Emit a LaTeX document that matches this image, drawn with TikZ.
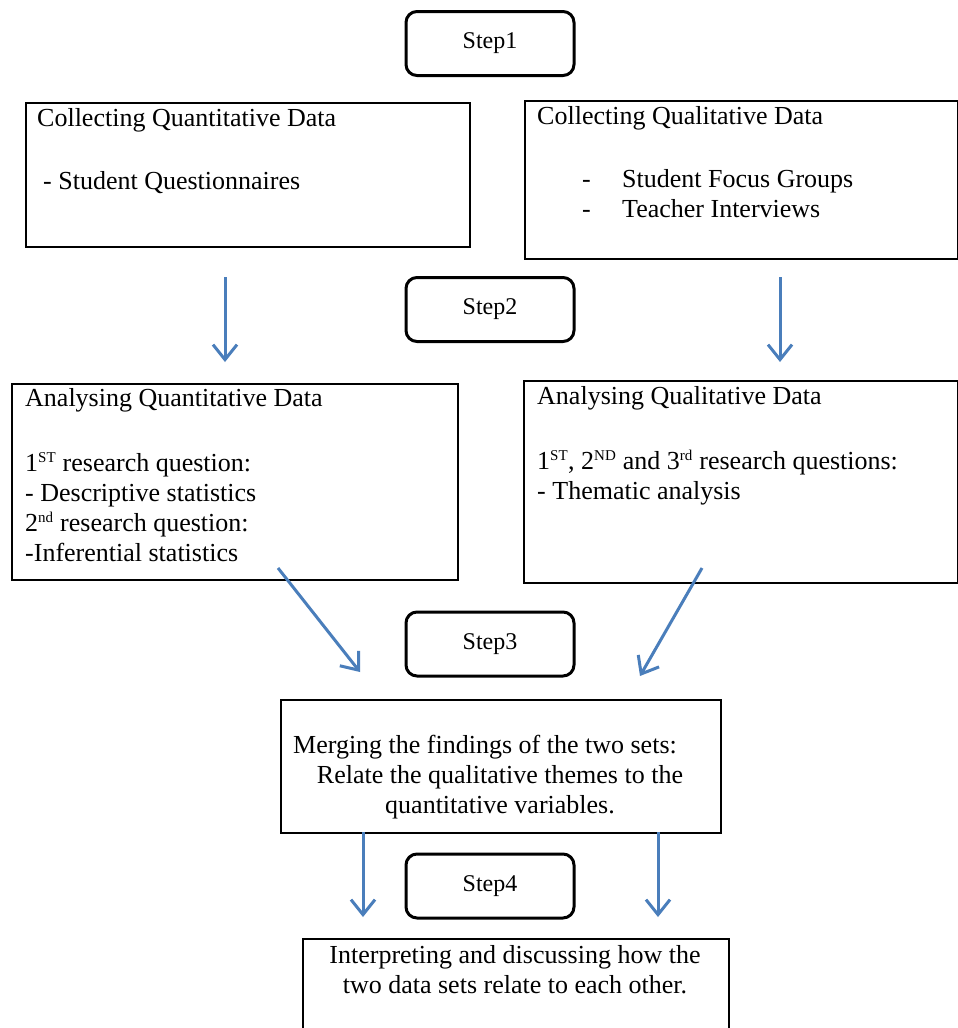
\documentclass[tikz,border=0pt]{standalone}
\usepackage{fontspec}
\setmainfont{Liberation Serif}
\usetikzlibrary{arrows.meta}
\definecolor{arrowblue}{RGB}{74,126,187}
\newcommand{\ordsup}[1]{\textsuperscript{\fontsize{15}{15}\selectfont #1}}

\begin{document}
\begin{tikzpicture}[x=1pt,y=-1pt,
  stepbox/.style={draw,line width=3pt,rounded corners=11pt,minimum width=168pt,minimum height=64pt,font=\fontsize{24}{28}\selectfont},
  frame/.style={draw,line width=1.5pt,anchor=north west,inner sep=0pt},
  txt/.style={anchor=north west,align=left,inner sep=0pt,font=\fontsize{26}{30}\selectfont},
  flow/.style={arrowblue,line width=3pt,-{Straight Barb[length=15pt,width=24pt]}}]
  \useasboundingbox[fill=white] (0,0) rectangle (958,1028);

  % step labels
  \node[stepbox] (step1) at (490,43.5) {Step1};
  \node[stepbox] (step2) at (490,309.5) {Step2};
  \node[stepbox] (step3) at (490,644) {Step3};
  \node[stepbox] (step4) at (490,886) {Step4};

  % boxes
  \node[frame,minimum width=444pt,minimum height=144pt] (qncol) at (25,102) {};
  \node[frame,minimum width=433pt,minimum height=158pt] (qlcol) at (524,100) {};
  \node[frame,minimum width=446pt,minimum height=196pt] (qnan) at (11,383) {};
  \node[frame,minimum width=434pt,minimum height=202pt] (qlan) at (523,380) {};
  \node[frame,minimum width=440pt,minimum height=133pt] (merge) at (280,699) {};
  \node[frame,minimum width=426pt,minimum height=120pt] (interp) at (302,938) {};

  \node[txt] (qncoltxt) at (37,108) {Collecting Quantitative Data\\[33pt]
    \hspace*{6pt}- Student Questionnaires};
  \node[txt] (qlcoltxt) at (537,106) {Collecting Qualitative Data\\[33pt]
    \hspace*{45pt}\makebox[40pt][l]{-}Student Focus Groups\\
    \hspace*{45pt}\makebox[40pt][l]{-}Teacher Interviews};
  \node[txt] (qnantxt) at (25,388) {Analysing Quantitative Data\\[35pt]
    1\ordsup{ST} research question:\\
    - Descriptive statistics\\
    2\ordsup{nd} research question:\\
    -Inferential statistics};
  \node[txt] (qlantxt) at (537,386) {Analysing Qualitative Data\\[35pt]
    1\ordsup{ST}, 2\ordsup{ND} and 3\ordsup{rd} research questions:\\
    - Thematic analysis};
  \node[txt,anchor=center,align=center] (mergetxt) at (500,777) {Merging the findings of the two sets:\hspace*{30pt}\\
    Relate the qualitative themes to the\\
    quantitative variables.};
  \node[txt,anchor=center,align=center] (interptxt) at (515,970) {Interpreting and discussing how the\\
    two data sets relate to each other.};

  % arrows
  \coordinate (a1) at (225,277);  \coordinate (b1) at (225,362);
  \coordinate (a2) at (780,277);  \coordinate (b2) at (780,362);
  \coordinate (a3) at (278,568);  \coordinate (b3) at (360,672);
  \coordinate (a4) at (702,568);  \coordinate (b4) at (640,676);
  \coordinate (a5) at (363,832);  \coordinate (b5) at (363,917);
  \coordinate (a6) at (658,832);  \coordinate (b6) at (658,917);
  \foreach \i in {1,...,6}
    \draw[flow] (a\i) -- (b\i);
\end{tikzpicture}
\end{document}
